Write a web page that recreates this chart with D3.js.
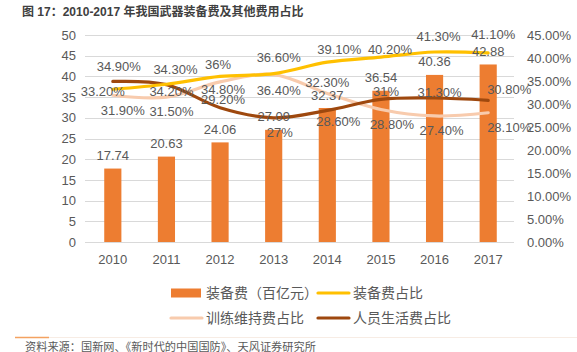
<!DOCTYPE html>
<html>
<head>
<meta charset="utf-8">
<script src="https://cdn.jsdelivr.net/npm/d3@7"></script>
<style>
    body { margin: 0; background: #fff; }
    svg text { font-family: "Liberation Sans", "Noto Sans CJK SC", sans-serif; }
</style>
</head>
<body>
<div id="chart"></div>
<script>
var YEARS        = ["2010", "2011", "2012", "2013", "2014", "2015", "2016", "2017"];
var EQUIP_COST   = [17.74, 20.63, 24.06, 27.09, 32.37, 36.54, 40.36, 42.88];   // 百亿元
var EQUIP_SHARE  = [33.2, 34.3, 36, 36.6, 39.1, 40.2, 41.3, 41.1];               // %
var TRAIN_SHARE  = [31.9, 31.5, 34.8, 36.4, 32.3, 28.8, 27.4, 28.1];
var STAFF_SHARE  = [34.9, 34.2, 29.2, 27, 28.6, 31, 31.3, 30.8];
var LEFT_TICKS   = [0, 5, 10, 15, 20, 25, 30, 35, 40, 45, 50];
var RIGHT_TICKS  = [0, 5, 10, 15, 20, 25, 30, 35, 40, 45];

// label nudges (dx, dy from the point, px) - the source had hand-placed labels
var EQUIP_LBL = [[-10, 2], [9, -15], [-2, -12], [5, -16], [12, -13], [9, -8], [4, -16], [5, -18]];
var TRAIN_LBL = [[10, 15], [5, 14], [3, 8], [5, 16], [0, -11], [11, 15], [7, 14], [21, 15]];
var STAFF_LBL = [[6, -15], [5, 7], [3, -8], [6, 15], [11, 11], [5, -8], [5, -6], [21, -11]];

(function () {

    var W = 577, H = 352;
    var TEXT = "#595959";
    var plot = { left: 86, right: 515, top: 35, bottom: 242 };

    var svg = d3.select("#chart").append("svg")
        .attr("width", W).attr("height", H);

    svg.append("rect").attr("width", W).attr("height", H).attr("fill", "#fff");

    // title
    svg.append("text")
        .attr("x", 22).attr("y", 16)
        .attr("font-size", 12).attr("font-weight", "bold")
        .attr("fill", "#404040")
        .text("图 17：2010-2017 年我国武器装备费及其他费用占比");

    /* scales */
    var x = d3.scaleBand()
        .domain(YEARS)
        .range([plot.left, plot.right])
        .paddingInner(0.68)
        .paddingOuter(0.34);
    var cx = function (d) { return x(d) + x.bandwidth() / 2; };

    var yL = d3.scaleLinear().domain([0, 50]).range([plot.bottom, plot.top]);
    var yR = d3.scaleLinear().domain([0, 45]).range([plot.bottom, plot.top]);

    /* grid */
    svg.append("g").selectAll("line")
        .data(LEFT_TICKS)
        .enter().append("line")
        .attr("x1", plot.left - 1).attr("x2", plot.right - 1)
        .attr("y1", function (d) { return Math.round(yL(d)) + 0.5; })
        .attr("y2", function (d) { return Math.round(yL(d)) + 0.5; })
        .attr("stroke", "#d9d9d9").attr("stroke-width", 1);

    /* axes */
    var gL = svg.append("g")
        .attr("transform", "translate(" + (plot.left - 1) + ",0)")
        .call(d3.axisLeft(yL).tickValues(LEFT_TICKS).tickSize(0).tickPadding(9));
    var gR = svg.append("g")
        .attr("transform", "translate(" + plot.right + ",0)")
        .call(d3.axisRight(yR).tickValues(RIGHT_TICKS).tickSize(0).tickPadding(12)
            .tickFormat(function (v) { return v.toFixed(2) + "%"; }));
    var gX = svg.append("g")
        .attr("transform", "translate(0," + plot.bottom + ")")
        .call(d3.axisBottom(x).tickSize(0).tickPadding(13));

    [gL, gR, gX].forEach(function (g) {
        g.select(".domain").remove();
        g.selectAll("text")
            .style("font-family", "'Liberation Sans', 'Noto Sans CJK SC', sans-serif")
            .style("font-size", "13px")
            .attr("fill", TEXT);
    });

    /* bars */
    svg.append("g").selectAll("rect")
        .data(EQUIP_COST)
        .enter().append("rect")
        .attr("x", function (d, i) { return x(YEARS[i]); })
        .attr("y", function (d) { return yL(d); })
        .attr("width", x.bandwidth())
        .attr("height", function (d) { return plot.bottom - yL(d); })
        .attr("fill", "#ed7d31");

    /* lines */
    var series = [
        { vals: TRAIN_SHARE, color: "#f8cbad", lbl: TRAIN_LBL },
        { vals: STAFF_SHARE, color: "#9e480e", lbl: STAFF_LBL },
        { vals: EQUIP_SHARE, color: "#ffc000", lbl: EQUIP_LBL }
    ];

    var line = d3.line()
        .x(function (d, i) { return cx(YEARS[i]); })
        .y(function (d) { return yR(d); })
        .curve(d3.curveCatmullRom.alpha(0.5));

    series.forEach(function (s) {
        svg.append("path")
            .datum(s.vals)
            .attr("fill", "none")
            .attr("stroke", s.color)
            .attr("stroke-width", 3.2)
            .attr("stroke-linejoin", "round")
            .attr("stroke-linecap", "round")
            .attr("d", line);
    });

    /* data labels */
    var pct = function (v) { return (v % 1 === 0 ? v : v.toFixed(2)) + "%"; };
    var labels = svg.append("g")
        .attr("font-size", 13).attr("fill", TEXT)
        .attr("text-anchor", "middle");

    labels.selectAll(".lbl-bar")
        .data(EQUIP_COST)
        .enter().append("text")
        .attr("class", "lbl-bar")
        .attr("x", function (d, i) { return cx(YEARS[i]); })
        .attr("y", function (d) { return yL(d) - 13; })
        .attr("dy", "0.35em")
        .text(function (d) { return d.toFixed(2); });

    series.forEach(function (s) {
        labels.append("g").selectAll("text")
            .data(s.vals)
            .enter().append("text")
            .attr("x", function (d, i) { return cx(YEARS[i]) + s.lbl[i][0]; })
            .attr("y", function (d, i) { return yR(d) + s.lbl[i][1]; })
            .attr("dy", "0.35em")
            .text(pct);
    });

    /* legend */
    var legend = svg.append("g").attr("font-size", 14).attr("fill", TEXT);
    var items = [
        { type: "bar",  color: "#ed7d31", label: "装备费（百亿元）", x: 171, y: 293 },
        { type: "line", color: "#ffc000", label: "装备费占比",       x: 318, y: 293 },
        { type: "line", color: "#f8cbad", label: "训练维持费占比",   x: 171, y: 318 },
        { type: "line", color: "#9e480e", label: "人员生活费占比",   x: 318, y: 318 }
    ];
    items.forEach(function (d) {
        var g = legend.append("g").attr("transform", "translate(" + d.x + "," + d.y + ")");
        if (d.type === "bar") {
            g.append("rect").attr("x", 0).attr("y", -4.5)
                .attr("width", 30).attr("height", 9).attr("fill", d.color);
        } else {
            g.append("line").attr("x1", 0).attr("x2", 31)
                .attr("stroke", d.color).attr("stroke-width", 3.2)
                .attr("stroke-linecap", "round");
        }
        g.append("text").attr("x", 35).attr("dy", "0.35em").text(d.label);
    });

    /* source footer */
    svg.append("line")
        .attr("x1", 49).attr("x2", W).attr("y1", 337.5).attr("y2", 337.5)
        .attr("stroke", "#f7ece4").attr("stroke-width", 1);
    svg.append("line")
        .attr("x1", 15).attr("x2", 49).attr("y1", 337.5).attr("y2", 337.5)
        .attr("stroke", "#f4a261").attr("stroke-width", 1.5);
    svg.append("text")
        .attr("x", 25).attr("y", 351)
        .attr("font-size", 11.2).attr("fill", TEXT)
        .text("资料来源：国新网、《新时代的中国国防》、天风证券研究所");

}());
</script>
</body>
</html>
